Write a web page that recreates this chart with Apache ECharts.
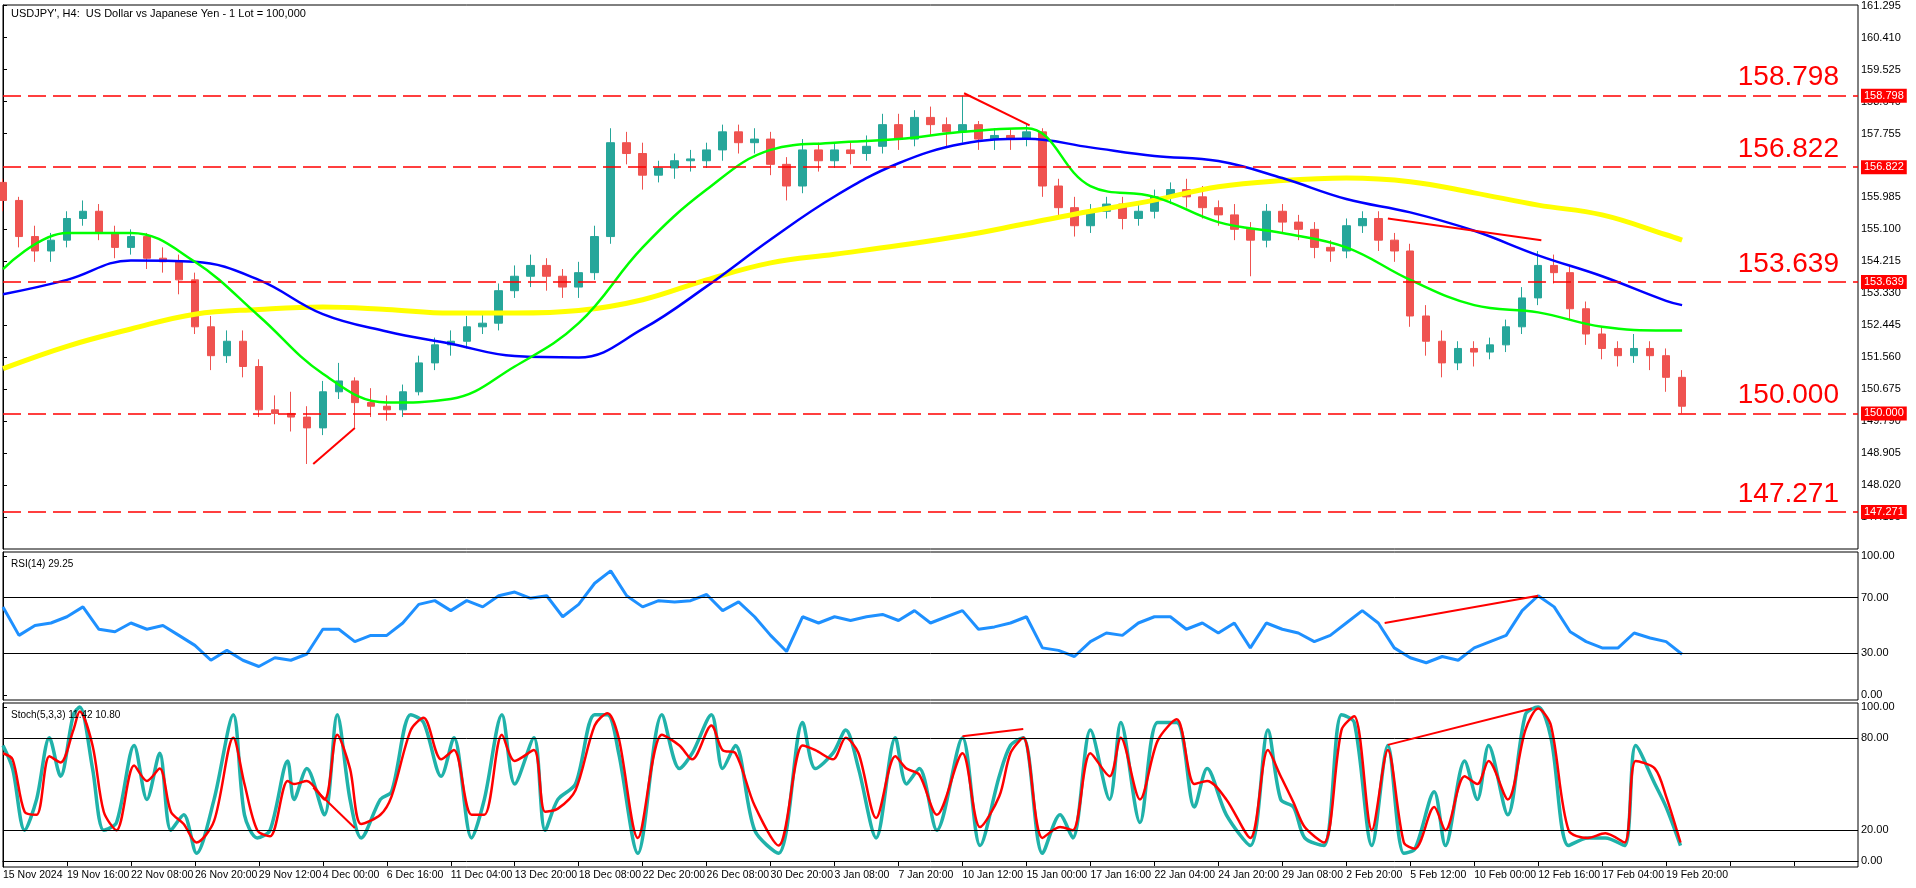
<!DOCTYPE html>
<html>
<head>
<meta charset="utf-8">
<script src="https://cdn.jsdelivr.net/npm/echarts@6/dist/echarts.min.js"></script>
<style>
  html, body { margin: 0; padding: 0; background: #fff; }
  #chart { width: 1916px; height: 888px; }
</style>
</head>
<body>
<div id="chart"></div>
<script>
// candles, one per 16h (4 H4 bars)
var opens = [156.4,155.9,154.9,154.5,154.8,155.4,155.6,155.0,154.6,154.9,
  154.3,154.2,153.7,152.4,151.6,152.0,151.3,150.1,150.0,149.9,
  149.6,150.6,150.9,150.3,150.2,150.1,150.6,151.4,151.9,152.0,
  152.4,152.5,153.4,153.8,154.1,153.8,153.5,153.9,154.9,157.5,
  157.2,156.6,156.8,157.0,157.0,157.3,157.8,157.5,157.6,156.9,
  156.3,157.3,157.0,157.3,157.2,157.4,158.0,157.6,158.2,158.0,
  157.8,158.0,157.6,157.7,157.6,157.8,156.3,155.7,155.2,155.6,
  155.8,155.4,155.6,156.0,156.2,156.0,155.7,155.5,155.1,154.8,
  155.6,155.3,155.1,154.6,154.5,155.2,155.4,154.8,154.5,152.7,
  152.0,151.4,151.8,151.7,151.9,152.4,153.2,154.1,153.9,152.9,
  152.2,151.8,151.6,151.8,151.6,151.0];
var closes = [155.9,154.9,154.5,154.8,155.4,155.6,155.0,154.6,154.9,154.3,
  154.2,153.7,152.4,151.6,152.0,151.3,150.1,150.0,149.9,149.6,
  150.6,150.9,150.3,150.2,150.1,150.6,151.4,151.9,152.0,152.4,
  152.5,153.4,153.8,154.1,153.8,153.5,153.9,154.9,157.5,157.2,
  156.6,156.8,157.0,157.05,157.3,157.8,157.5,157.6,156.9,156.3,
  157.3,157.0,157.3,157.2,157.4,158.0,157.6,158.2,158.0,157.8,
  158.0,157.6,157.7,157.6,157.8,156.3,155.7,155.2,155.6,155.8,
  155.4,155.6,156.0,156.2,156.0,155.7,155.5,155.1,154.8,155.6,
  155.3,155.1,154.6,154.5,155.2,155.4,154.8,154.5,152.7,152.0,
  151.4,151.8,151.7,151.9,152.4,153.2,154.1,153.9,152.9,152.2,
  151.8,151.6,151.8,151.6,151.0,150.2];
var highs = [156.5,156.0,155.2,155.0,155.6,155.9,155.8,155.2,155.1,155.0,
  154.6,154.4,153.9,152.7,152.3,152.3,151.5,150.5,150.6,150.2,
  150.9,151.4,151.0,150.7,150.5,150.8,151.6,152.1,152.3,152.7,
  152.8,153.6,154.1,154.4,154.3,154.0,154.2,155.2,157.9,157.8,
  157.5,157.0,157.2,157.3,157.5,158.0,158.0,157.9,157.8,157.1,
  157.6,157.5,157.5,157.5,157.7,158.3,158.3,158.4,158.5,158.2,
  158.8,158.1,157.9,157.9,158.0,157.9,156.5,156.0,155.8,156.0,
  156.0,155.8,156.2,156.4,156.5,156.3,155.9,155.8,155.3,155.8,
  155.8,155.5,155.3,154.8,155.4,155.6,155.6,155.0,154.7,153.0,
  152.3,152.0,152.0,152.1,152.6,153.5,154.5,154.4,154.1,153.1,
  152.4,152.0,152.2,152.0,151.8,151.2];
var lows = [155.6,154.6,154.2,154.2,154.6,155.2,154.8,154.3,154.4,154.0,
  153.9,153.3,152.2,151.2,151.4,151.0,149.9,149.7,149.5,148.6,
  149.4,150.4,149.6,149.9,149.8,149.9,150.5,151.2,151.6,151.8,
  152.2,152.3,153.2,153.5,153.4,153.2,153.2,153.7,154.7,156.9,
  156.2,156.4,156.5,156.7,156.8,157.0,157.2,157.2,156.6,155.9,
  156.1,156.7,156.8,156.9,157.0,157.2,157.3,157.4,157.7,157.4,
  157.5,157.3,157.3,157.3,157.4,156.0,155.4,154.9,155.0,155.4,
  155.1,155.2,155.4,155.8,155.7,155.4,155.2,154.8,153.8,154.6,
  155.0,154.8,154.3,154.2,154.3,155.0,154.5,154.2,152.4,151.6,
  151.0,151.2,151.3,151.5,151.7,152.2,153.0,153.6,152.6,151.9,
  151.5,151.3,151.4,151.2,150.6,150.0];

// moving averages, read at every 4th candle
var maIdx    = [0,4,8,12,16,20,24,28,32,36,40,44,48,52,56,60,64,68,72,76,80,84,88,92,96,100,104,105];
var maGreen  = [154.0,155.0,155.0,154.2,152.7,151.1,150.3,150.4,151.3,152.5,154.6,156.2,157.3,157.5,157.6,157.8,157.9,156.3,156.0,155.3,155.0,154.6,153.7,153.0,152.8,152.4,152.3,152.3];
var maBlue   = [153.3,153.7,154.24,154.2,153.7,152.75,152.27,151.93,151.59,151.55,152.34,153.52,154.82,156.01,156.93,157.47,157.61,157.37,157.13,156.99,156.52,155.94,155.57,155.06,154.38,153.8,153.12,153.0];
var maYellow = [151.24,151.86,152.34,152.75,152.88,152.95,152.88,152.78,152.78,152.85,153.15,153.7,154.17,154.41,154.65,154.92,155.26,155.6,155.91,156.28,156.45,156.52,156.42,156.11,155.77,155.5,154.95,154.8];

var rsi = [63.4,42.9,50,51.8,56.3,63.4,47.3,45.5,51.8,47.3,
  50,42.9,35.7,25,32.1,25,20.5,26.8,25,29.5,
  47.3,47.3,38.4,42.9,42.9,51.8,65.2,67.9,60.7,67.9,
  63.4,71.4,74.1,69.6,71.4,56.3,65.2,80.4,89.3,71.4,
  63.4,67.9,67,67.9,72.3,60.7,67,56.3,42.9,31.3,
  56.3,51.8,56.3,53.6,56.3,58,53.6,60.7,51.8,56.3,
  60.7,47.3,49,51.8,56.3,33.9,32.1,27.7,38.4,44.6,
  42.9,51.8,56.3,56.3,47.3,51.8,44.6,51.8,33.9,51.8,
  47.3,44.6,38.4,42.9,51.8,60.7,51.8,33.9,26.8,23.2,
  27.7,25,33.9,38.4,42.9,60.7,71.4,63.4,45.5,38.4,
  33.9,33.9,44.6,41,38.4,29.3];

// stochastic turning points: position (candle index) and value
var stochX = [0,0.6,1.35,2.1,2.9,3.6,4.4,4.8,5.6,6.3,7.1,8.2,9.0,9.8,10.5,11.3,12.1,13.2,14.4,15.1,15.9,16.7,17.8,18.2,19.0,20.1,20.9,21.7,22.4,23.6,24.3,25.5,26.3,27.4,28.2,29.3,30.1,31.2,32.0,33.2,33.9,34.7,35.8,37.0,37.8,38.5,39.7,41.2,42.3,43.1,44.3,45.0,45.8,47.0,48.5,50.0,50.8,51.9,52.7,53.5,54.6,55.8,56.5,57.3,58.4,60.0,61.1,62.3,63.0,63.8,65.0,66.1,66.9,68.0,69.2,69.9,71.1,72.2,73.4,74.5,75.3,76.5,78.0,79.1,79.9,80.7,81.4,82.6,83.7,84.5,85.6,86.6,87.6,88.3,89.5,90.2,91.4,92.2,92.9,94.1,95.2,96.0,96.8,97.9,99.1,100.2,101.4,102.1,103.3,104.0,104.9];
var stochK = [75,60,20,40,80,55,95,100,60,20,25,75,40,70,20,30,5,40,95,30,15,20,65,40,60,30,95,40,15,40,45,95,90,55,80,15,40,95,50,80,20,40,50,95,95,70,5,95,60,70,95,60,75,20,5,90,60,70,85,60,15,80,50,60,20,80,10,55,75,80,5,30,15,85,40,90,25,90,90,35,60,30,10,85,40,35,15,10,95,90,10,75,5,8,45,10,65,40,75,30,95,100,80,10,15,15,10,75,50,35,10];
var stochD = [70,66,32,30,68,64,85,97,75,32,20,62,52,60,32,24,12,26,80,50,20,16,52,50,52,40,82,60,24,30,42,85,93,66,72,30,30,82,65,72,32,34,46,88,96,80,15,82,75,66,88,72,70,36,10,75,72,66,80,70,28,68,60,56,30,70,22,42,70,80,15,22,20,70,55,80,40,78,92,50,52,40,15,72,55,38,22,12,85,94,20,72,12,8,35,20,55,50,65,40,85,99,88,20,15,18,12,65,60,42,12];

// annotation trend lines: [x1, y1, x2, y2] in candle index / value
var priceTrends = [[19.4,148.6,22.0,149.6],[60.1,158.87,64.2,157.98],[86.6,155.4,96.2,154.8]];
var rsiTrends = [[86.4,51.8,96.0,71.4]];
var stochTrends = [[19.4,47.6,22.0,21.4],[60.0,81,63.8,85.7],[86.6,75.4,95.6,99]];

var levels = [158.798,156.822,153.639,150.000,147.271];
var priceTicks = [161.295,160.410,159.525,158.640,157.755,155.985,155.100,154.215,153.330,152.445,151.560,150.675,149.790,148.905,148.020,147.135];
var dateLabels = ['15 Nov 2024','19 Nov 16:00','22 Nov 08:00','26 Nov 20:00','29 Nov 12:00','4 Dec 00:00','6 Dec 16:00','11 Dec 04:00','13 Dec 20:00','18 Dec 08:00','22 Dec 20:00','26 Dec 08:00','30 Dec 20:00','3 Jan 08:00','7 Jan 20:00','10 Jan 12:00','15 Jan 00:00','17 Jan 16:00','22 Jan 04:00','24 Jan 20:00','29 Jan 08:00','2 Feb 20:00','5 Feb 12:00','10 Feb 00:00','12 Feb 16:00','17 Feb 04:00','19 Feb 20:00'];

var FONT = 'Liberation Sans';
var N = 117;
var cats = [];
for (var i = 0; i < N; i++) cats.push(String(i));
var candles = opens.map(function (o, i) { return [o, closes[i], lows[i], highs[i]]; });

function pairs(xs, ys) { return xs.map(function (x, i) { return [x, ys[i]]; }); }
function trendSeries(list, xAxisIndex, yAxisIndex) {
  return list.map(function (t) {
    return {
      type: 'line', xAxisIndex: xAxisIndex, yAxisIndex: yAxisIndex,
      data: [[t[0], t[1]], [t[2], t[3]]], symbol: 'none', silent: true, z: 10,
      lineStyle: { color: '#ff0000', width: 2 }
    };
  });
}

// red tags at the axis and big numbers above each level
var levelTags = levels.map(function (v) {
  return { yAxis: v,
    label: { show: true, position: 'end', formatter: v.toFixed(3), color: '#fff', backgroundColor: '#ff0000',
      fontFamily: FONT, fontSize: 11, padding: [2, 3, 1, 3], distance: 3 } };
});
var levelBig = levels.map(function (v) {
  return { yAxis: v,
    label: { show: true, position: 'insideEndTop', formatter: v.toFixed(3), color: '#ff0000',
      fontFamily: FONT, fontSize: 28, distance: [19, 4] } };
});

function hiddenX(grid, type) {
  var a = { type: type, gridIndex: grid, min: 0, max: N - 1, boundaryGap: false,
    axisLine: { show: false }, axisTick: { show: false }, axisLabel: { show: false }, splitLine: { show: false } };
  if (type === 'category') a.data = cats;
  return a;
}
function rightY(grid, min, max, ticks, fmt) {
  return {
    type: 'value', gridIndex: grid, position: 'right', min: min, max: max, scale: true,
    axisLine: { show: true, lineStyle: { color: '#000' } },
    axisTick: { show: true, length: 4, lineStyle: { color: '#000' }, customValues: ticks },
    axisLabel: { show: true, color: '#000', fontFamily: FONT, fontSize: 11, margin: 3,
      customValues: ticks, formatter: function (v) { return v.toFixed(fmt); } },
    splitLine: { show: false }
  };
}
function hLines(vals) {
  return { symbol: 'none', silent: true, label: { show: false },
    lineStyle: { color: '#000', width: 1, type: 'solid' },
    data: vals.map(function (v) { return { yAxis: v }; }) };
}

var chart = echarts.init(document.getElementById('chart'));
chart.setOption({
  animation: false,
  backgroundColor: '#fff',
  title: [
    { text: "USDJPY', H4:  US Dollar vs Japanese Yen - 1 Lot = 100,000", left: 6, top: 3,
      textStyle: { fontFamily: FONT, fontSize: 11, fontWeight: 'normal', color: '#000' } },
    { text: 'RSI(14) 29.25', left: 6, top: 554,
      textStyle: { fontFamily: FONT, fontSize: 10, fontWeight: 'normal', color: '#000' } },
    { text: 'Stoch(5,3,3) 11.42 10.80', left: 6, top: 705,
      textStyle: { fontFamily: FONT, fontSize: 10, fontWeight: 'normal', color: '#000' } }
  ],
  grid: [
    { left: 3, right: 58, top: 5, height: 544, show: true, borderColor: '#000', borderWidth: 1 },
    { left: 3, right: 58, top: 552, height: 148, show: true, borderColor: '#000', borderWidth: 1 },
    { left: 3, right: 58, top: 703, height: 164, show: true, borderColor: '#000', borderWidth: 1 }
  ],
  xAxis: [
    hiddenX(0, 'category'),
    hiddenX(0, 'value'),
    hiddenX(1, 'value'),
    {
      type: 'value', gridIndex: 2, min: 0, max: N - 1, interval: 4,
      axisLine: { show: true, lineStyle: { color: '#000' } },
      axisTick: { show: true, length: 5, lineStyle: { color: '#000' } },
      axisLabel: { show: true, color: '#000', fontFamily: FONT, fontSize: 10.5, align: 'left', margin: 3,
        showMaxLabel: false,
        formatter: function (v) { return dateLabels[Math.round(v / 4)] || ''; } },
      splitLine: { show: false }
    }
  ],
  yAxis: [
    rightY(0, 146.245, 161.314, priceTicks, 3),
    rightY(1, -3.6, 102.9, [0, 30, 70, 100], 2),
    rightY(2, -3.9, 102.6, [0, 20, 80, 100], 2)
  ],
  series: [
    {
      type: 'candlestick', xAxisIndex: 0, yAxisIndex: 0, data: candles, barWidth: 8,
      itemStyle: { color: '#26a69a', color0: '#ef5350', borderColor: '#26a69a', borderColor0: '#ef5350', borderWidth: 1 },
      markLine: { symbol: 'none', silent: true, z: 20,
        lineStyle: { color: '#ff0000', width: 1.5, type: [18, 7] },
        data: levelTags }
    },
    { type: 'line', xAxisIndex: 1, yAxisIndex: 0, data: pairs(maIdx, maYellow), smooth: 0.4, symbol: 'none',
      lineStyle: { color: '#ffff00', width: 5 }, z: 3,
      markLine: { symbol: 'none', silent: true, z: 20,
        lineStyle: { color: 'rgba(0,0,0,0)', width: 1 }, data: levelBig } },
    { type: 'line', xAxisIndex: 1, yAxisIndex: 0, data: pairs(maIdx, maBlue), smooth: 0.4, symbol: 'none',
      lineStyle: { color: '#0000ff', width: 2.5 }, z: 4 },
    { type: 'line', xAxisIndex: 1, yAxisIndex: 0, data: pairs(maIdx, maGreen), smooth: 0.4, symbol: 'none',
      lineStyle: { color: '#00ff00', width: 2.5 }, z: 4 },
    { type: 'line', xAxisIndex: 2, yAxisIndex: 1, data: rsi.map(function (v, i) { return [i, v]; }), symbol: 'none',
      lineStyle: { color: '#1e90ff', width: 3 }, markLine: hLines([30, 70]) },
    { type: 'line', xAxisIndex: 3, yAxisIndex: 2, data: pairs(stochX, stochK), smooth: 0.3, symbol: 'none',
      lineStyle: { color: '#20b2aa', width: 3.5 }, markLine: hLines([20, 80]) },
    { type: 'line', xAxisIndex: 3, yAxisIndex: 2, data: pairs(stochX, stochD), smooth: 0.3, symbol: 'none',
      lineStyle: { color: '#ff0000', width: 2.5 } }
  ].concat(trendSeries(priceTrends, 1, 0), trendSeries(rsiTrends, 2, 1), trendSeries(stochTrends, 3, 2))
});
</script>
</body>
</html>
